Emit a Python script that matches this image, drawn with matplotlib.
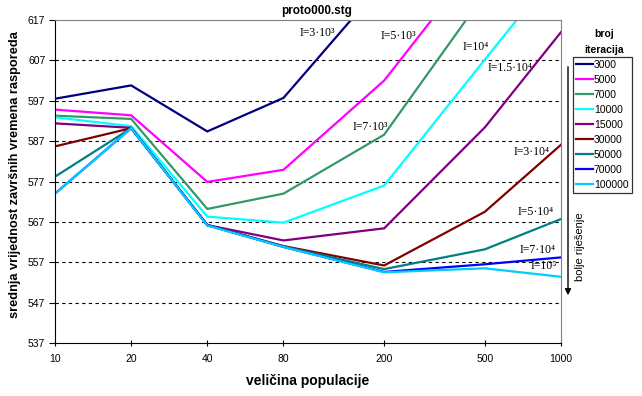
import matplotlib
matplotlib.use("Agg")
import matplotlib.pyplot as plt

# population sizes (x) and mean final schedule length per number of iterations
POP = [10, 20, 40, 80, 200, 500, 1000]
ITER_LABELS = ["3000", "5000", "7000", "10000", "15000", "30000", "50000", "70000", "100000"]
S3000 = [597.5, 600.8, 589.4, 597.7, 626.5, 645.0, 655.0]
S5000 = [594.8, 593.4, 576.9, 579.9, 602.0, 633.8, 642.0]
S7000 = [593.3, 592.5, 570.2, 574.0, 588.6, 623.5, 632.0]
S10000 = [592.9, 590.7, 568.3, 566.8, 576.0, 607.2, 630.6]
S15000 = [591.4, 590.3, 566.2, 562.4, 565.4, 590.4, 614.0]
S30000 = [585.7, 590.2, 566.2, 561.0, 556.2, 569.5, 586.1]
S50000 = [578.2, 590.2, 566.2, 560.9, 555.3, 560.2, 567.7]
S70000 = [574.0, 590.2, 566.2, 560.8, 554.6, 556.5, 558.2]
S100000 = [574.0, 590.2, 566.1, 560.8, 554.5, 555.5, 553.4]
SERIES = [S3000, S5000, S7000, S10000, S15000, S30000, S50000, S70000, S100000]
COLORS = ["#000080", "#FF00FF", "#339966", "#00FFFF", "#800080",
          "#800000", "#008080", "#0000FF", "#00CCFF"]

# in-plot labels: text, x (population), y (value)
NOTES = [
    ("I=3·10³", 109, 613.8),
    ("I=5·10³", 227, 613.0),
    ("I=10⁴", 461, 610.3),
    ("I=1.5·10⁴", 628, 605.1),
    ("I=7·10³", 176, 590.4),
    ("I=3·10⁴", 767, 584.2),
    ("I=5·10⁴", 796, 569.5),
    ("I=7·10⁴", 811, 560.1),
    ("I=10⁵", 857, 556.1),
]
YTICKS = [537, 547, 557, 567, 577, 587, 597, 607, 617]

W, H = 642, 396
fig = plt.figure(figsize=(W / 100, H / 100), dpi=100)
ax = fig.add_axes([55 / W, 1 - 343 / H, (561 - 55) / W, (343 - 20) / H])
sans = ["Liberation Sans", "DejaVu Sans"]
serif = ["Liberation Serif", "DejaVu Serif"]

for lab, vals, col in zip(ITER_LABELS, SERIES, COLORS):
    ax.plot(POP, vals, color=col, lw=1.6, label=lab, solid_joinstyle="miter")

ax.set_xscale("log")
ax.set_xlim(10, 1000)
ax.set_ylim(537, 617)
ax.set_xticks(POP)
ax.set_xticks([], minor=True)
ax.set_xticklabels([str(p) for p in POP], fontsize=7.5, family=sans)
ax.set_yticks(YTICKS)
ax.set_yticklabels([str(v) for v in YTICKS], fontsize=7.5, family=sans)
ax.tick_params(axis="x", direction="inout", length=4, pad=6)
ax.tick_params(axis="y", direction="out", length=4, pad=3)
for v in YTICKS[1:-1]:
    ax.axhline(v, color="black", ls=(0, (3, 3)), lw=0.8, zorder=0)
ax.spines["top"].set_color("#808080")
ax.spines["right"].set_color("#808080")

ax.set_xlabel("veličina populacije", fontsize=10, fontweight="bold", family=sans, labelpad=7)
ax.set_ylabel("srednja vrijednost završnih vremena rasporeda", fontsize=9.2,
              fontweight="bold", family=sans)
ax.yaxis.set_label_coords(-0.068, 0.523)
fig.text(317 / W, 1 - 11 / H, "proto000.stg", fontsize=8.5, fontweight="bold",
         family=sans, ha="center", va="center")

for txt, xv, yv in NOTES:
    ax.text(xv, yv, txt, fontsize=8.5, family=serif, ha="center", va="center")

leg = ax.legend(loc="upper left", bbox_to_anchor=(573 / W, 1 - 57 / H),
                bbox_transform=fig.transFigure, prop={"family": sans, "size": 7.5},
                frameon=True, fancybox=False, borderpad=0.3, labelspacing=0.48,
                handlelength=1.6, handletextpad=0.1, borderaxespad=0)
leg.get_frame().set_edgecolor("black")
leg.get_frame().set_linewidth(0.9)
fig.text(604 / W, 1 - 42 / H, "broj\niteracija", fontsize=7.5, fontweight="bold",
         family=sans, ha="center", va="center", linespacing=1.7)

# arrow "better solution"
ax.annotate("", xy=(568 / W, 1 - 298 / H), xytext=(568 / W, 1 - 64 / H),
            xycoords="figure fraction", textcoords="figure fraction",
            arrowprops=dict(arrowstyle="-|>", color="black", lw=1.0,
                            mutation_scale=9))
fig.text(580 / W, 1 - 247 / H, "bolje riješenje", rotation=90, fontsize=8,
         family=sans, ha="center", va="center")

fig.savefig("out.png", dpi=100)
